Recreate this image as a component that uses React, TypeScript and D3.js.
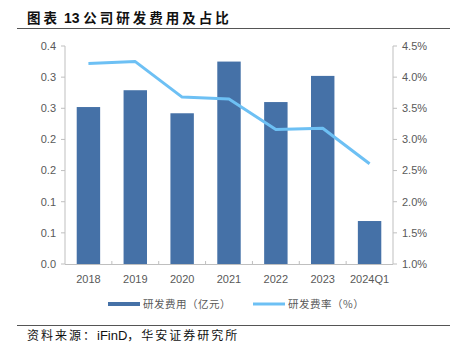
import React from "react";
import * as d3 from "d3";

const categories = ["2018", "2019", "2020", "2021", "2022", "2023", "2024Q1"];
const rdExpense = [0.252, 0.279, 0.242, 0.325, 0.26, 0.302, 0.069];
const rdRatio = [4.22, 4.25, 3.68, 3.65, 3.16, 3.18, 2.61];
const leftTickValues = [0, 0.05, 0.1, 0.15, 0.2, 0.25, 0.3, 0.35];
const leftTickLabels = ["0.0", "0.1", "0.1", "0.2", "0.2", "0.3", "0.3", "0.4"];
const rightTickValues = [1.0, 1.5, 2.0, 2.5, 3.0, 3.5, 4.0, 4.5];
const rightTickLabels = ["1.0%", "1.5%", "2.0%", "2.5%", "3.0%", "3.5%", "4.0%", "4.5%"];
const titleParts = ["图表", " 13 ", "公司研发费用及占比"];
const legendBar = "研发费用（亿元）";
const legendLine = "研发费率（%）";
const sourceParts = ["资料来源：", "iFinD", "，华安证券研究所"];

export default function App() {
  const W = 450, H = 346;
  const left = 65, right = 393, top = 46, bottom = 264;
  const x = d3.scaleBand<string>().domain(categories).range([left, right]).paddingInner(0.5).paddingOuter(0.25);
  const yL = d3.scaleLinear().domain([0, 0.35]).range([bottom, top]);
  const yR = d3.scaleLinear().domain([1.0, 4.5]).range([bottom, top]);
  const step = (right - left) / categories.length;
  const line = d3.line<number>()
    .x((_, i) => (x(categories[i]) as number) + x.bandwidth() / 2)
    .y((d) => yR(d));
  const axisColor = "#BFBFBF";
  const textColor = "#595959";
  const font = "'Liberation Sans', Arial, sans-serif";
  const cjk = "'Noto Sans CJK SC', sans-serif";
  const barColor = "#4571A7";
  const lineColor = "#6DC0F4";
  return (
    <svg width={W} height={H} style={{ position: "absolute", left: 0, top: 0 }}>
      <rect x={0} y={0} width={W} height={H} fill="#fff" />
      <text x={27} y={23} fontFamily={cjk} fontWeight={700} fontSize={13.5} fill="#111">
        <tspan letterSpacing={3}>{titleParts[0]}</tspan>
        <tspan fontFamily={font} fontSize={14}>{titleParts[1]}</tspan>
        <tspan letterSpacing={3}>{titleParts[2]}</tspan>
      </text>
      <line x1={17} x2={450} y1={28.5} y2={28.5} stroke="#555" strokeWidth={1} />
      {categories.map((c, i) => (
        <rect key={c} x={x(c)} y={yL(rdExpense[i])} width={x.bandwidth()} height={bottom - yL(rdExpense[i])} fill={barColor} />
      ))}
      <line x1={left} x2={left} y1={top} y2={bottom} stroke={axisColor} strokeWidth={1} />
      {leftTickValues.map((v, i) => (
        <g key={"l" + i}>
          <line x1={left - 4} x2={left} y1={yL(v)} y2={yL(v)} stroke={axisColor} />
          <text x={left - 9} y={yL(v)} dy="0.35em" textAnchor="end" fontFamily={font} fontSize={11} fill={textColor}>{leftTickLabels[i]}</text>
        </g>
      ))}
      <line x1={right} x2={right} y1={top} y2={bottom} stroke={axisColor} strokeWidth={1} />
      {rightTickValues.map((v, i) => (
        <g key={"r" + i}>
          <line x1={right} x2={right + 4} y1={yR(v)} y2={yR(v)} stroke={axisColor} />
          <text x={right + 9} y={yR(v)} dy="0.35em" textAnchor="start" fontFamily={font} fontSize={11} fill={textColor}>{rightTickLabels[i]}</text>
        </g>
      ))}
      <line x1={left} x2={right} y1={bottom + 0.5} y2={bottom + 0.5} stroke={axisColor} strokeWidth={1.2} />
      {categories.slice(1).map((c, i) => (
        <line key={"xt" + i} x1={left + step * (i + 1)} x2={left + step * (i + 1)} y1={bottom} y2={bottom - 3} stroke={axisColor} />
      ))}
      {categories.map((c) => (
        <text key={"xl" + c} x={(x(c) as number) + x.bandwidth() / 2} y={bottom + 19} textAnchor="middle" fontFamily={font} fontSize={11} fill={textColor}>{c}</text>
      ))}
      <path d={line(rdRatio) || ""} fill="none" stroke={lineColor} strokeWidth={3} strokeLinejoin="round" />
      <rect x={108} y={302} width={32} height={4} fill={barColor} />
      <text x={143} y={308} fontFamily={cjk} fontSize={10.5} letterSpacing={0.5} fill={textColor}>{legendBar}</text>
      <line x1={253} x2={285} y1={304} y2={304} stroke={lineColor} strokeWidth={3} />
      <text x={288} y={308} fontFamily={cjk} fontSize={10.5} letterSpacing={0.5} fill={textColor}>{legendLine}</text>
      <line x1={17} x2={450} y1={325.5} y2={325.5} stroke="#555" strokeWidth={1} />
      <text x={27} y={340} fontFamily={cjk} fontSize={12} fill="#111">
        <tspan letterSpacing={2}>{sourceParts[0]}</tspan>
        <tspan fontFamily={font} fontSize={13}>{sourceParts[1]}</tspan>
        <tspan letterSpacing={2}>{sourceParts[2]}</tspan>
      </text>
    </svg>
  );
}
